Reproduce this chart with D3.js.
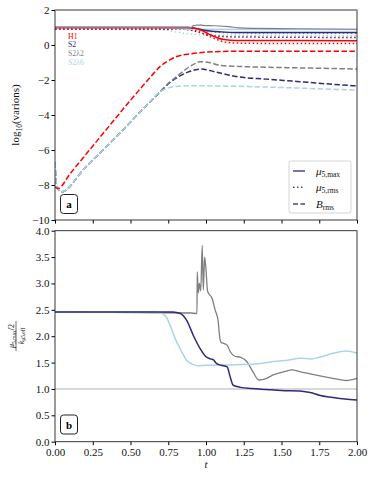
<!DOCTYPE html>
<html><head><meta charset="utf-8">
<script src="https://cdn.jsdelivr.net/npm/d3@7"></script>
<style>body{margin:0;background:#fff}svg{display:block}</style>
</head><body><div id="c"></div>
<script>
// ---- data ----
const xTicks = [0, 0.25, 0.5, 0.75, 1.0, 1.25, 1.5, 1.75, 2.0];
const yTicksTop = [-10, -8, -6, -4, -2, 0, 2];
const yTicksBot = [0, 0.5, 1, 1.5, 2, 2.5, 3, 3.5, 4];
const runNames = ["H1", "S2", "S2λ2", "S2λ6"];
const runColors = ["#ff0000", "#2e2a7c", "#7f7f7f", "#a9d6e5"];

// top panel: [t, log10 value]
const h1Max = [[0,1.0],[0.88,1.0],[0.93,0.95],[0.97,0.84],[1.02,0.62],[1.07,0.43],[1.12,0.31],[1.2,0.26],[2.0,0.25]];
const h1Rms = [[0,0.9],[0.85,0.9],[0.92,0.84],[0.97,0.7],[1.02,0.5],[1.07,0.32],[1.12,0.18],[1.2,0.11],[1.4,0.09],[2.0,0.08]];
const h1B = [[0,-8.1],[0.02,-8.2],[0.1,-7.35],[0.2,-6.3],[0.3,-5.25],[0.4,-4.2],[0.5,-3.15],[0.55,-2.65],[0.6,-2.15],[0.65,-1.65],[0.7,-1.2],[0.75,-0.9],[0.8,-0.68],[0.9,-0.5],[1.0,-0.41],[1.2,-0.36],[2.0,-0.35]];
const s2Max = [[0,1.0],[0.88,1.0],[0.95,0.92],[1.0,0.83],[1.1,0.75],[1.2,0.72],[2.0,0.72]];
const s2Rms = [[0,0.9],[0.85,0.9],[0.95,0.74],[1.0,0.6],[1.1,0.49],[1.2,0.46],[2.0,0.43]];
const s2B = [[0,-6.7],[0.01,-8.0],[0.04,-8.4],[0.2,-7.0],[0.4,-5.3],[0.6,-3.5],[0.7,-2.65],[0.76,-2.15],[0.82,-1.8],[0.88,-1.55],[0.93,-1.42],[0.97,-1.37],[1.02,-1.45],[1.1,-1.62],[1.2,-1.8],[1.4,-1.95],[1.6,-2.08],[1.8,-2.22],[2.0,-2.34]];
const s2l2Max = [[0,1.0],[0.9,1.0],[0.92,1.12],[0.93,1.1],[0.94,1.16],[0.95,1.12],[0.96,1.15],[0.98,1.12],[1.05,1.1],[1.15,1.05],[1.22,0.98],[1.3,0.95],[1.6,0.93],[2.0,0.9]];
const s2l2Rms = [[0,0.9],[0.9,0.9],[1.0,0.8],[1.1,0.72],[1.3,0.69],[2.0,0.67]];
const s2l2B = [[0,-6.7],[0.01,-8.0],[0.04,-8.4],[0.2,-7.0],[0.4,-5.3],[0.6,-3.5],[0.68,-2.8],[0.75,-2.2],[0.82,-1.7],[0.88,-1.3],[0.93,-1.05],[0.96,-0.95],[1.02,-1.0],[1.1,-1.17],[1.2,-1.22],[1.4,-1.27],[1.7,-1.32],[2.0,-1.37]];
const s2l6Max = [[0,1.0],[0.7,0.98],[0.8,0.93],[0.9,0.9],[2.0,0.88]];
const s2l6Rms = [[0,0.9],[0.7,0.88],[0.8,0.75],[0.9,0.62],[1.0,0.57],[1.5,0.55],[2.0,0.53]];
const s2l6B = [[0,-6.7],[0.01,-8.0],[0.04,-8.4],[0.2,-7.0],[0.4,-5.3],[0.6,-3.5],[0.7,-2.65],[0.75,-2.45],[0.8,-2.37],[0.9,-2.33],[1.2,-2.36],[1.5,-2.43],[2.0,-2.58]];

// bottom panel: [t, ratio]
const s2Ratio = [[0,2.46],[0.78,2.46],[0.83,2.43],[0.87,2.31],[0.92,1.99],[0.96,1.77],[1.0,1.61],[1.03,1.57],[1.05,1.55],[1.07,1.48],[1.1,1.45],[1.14,1.42],[1.16,1.23],[1.18,1.07],[1.23,1.03],[1.3,1.01],[1.4,0.99],[1.5,0.97],[1.62,0.96],[1.67,0.94],[1.71,0.92],[1.75,0.88],[1.84,0.84],[1.92,0.81],[2.0,0.79]];
const s2l2Ratio = [[0,2.46],[0.9,2.44],[0.94,2.43],[0.942,3.22],[0.949,2.82],[0.956,3.0],[0.965,2.86],[0.975,3.72],[0.982,2.88],[0.991,3.5],[1.0,3.26],[1.01,2.86],[1.02,2.8],[1.04,2.72],[1.06,2.5],[1.08,2.3],[1.09,2.0],[1.1,1.88],[1.12,1.86],[1.14,1.83],[1.16,1.71],[1.19,1.62],[1.23,1.6],[1.27,1.52],[1.31,1.33],[1.35,1.17],[1.38,1.18],[1.45,1.27],[1.52,1.33],[1.57,1.36],[1.62,1.33],[1.73,1.26],[1.84,1.2],[1.93,1.16],[2.0,1.2]];
const s2l6Ratio = [[0,2.46],[0.65,2.46],[0.7,2.44],[0.74,2.35],[0.77,2.15],[0.8,1.93],[0.84,1.7],[0.87,1.55],[0.91,1.47],[0.95,1.44],[1.0,1.45],[1.2,1.46],[1.35,1.48],[1.45,1.52],[1.55,1.55],[1.62,1.58],[1.7,1.57],[1.75,1.6],[1.85,1.68],[1.93,1.72],[2.0,1.68]];
const refLine = [[0,1],[2,1]];

const legendLabels = ["max", "rms", "rms"];

// ---- drawing ----
const FONT = "'Liberation Serif','DejaVu Serif',serif";
const W = 374, H = 477;
const svg = d3.select("#c").append("svg").attr("width", W).attr("height", H)
  .attr("font-family", FONT);
const L = 55, R = 357;
const x = d3.scaleLinear().domain([0, 2]).range([L, R]);
const yT = d3.scaleLinear().domain([-10, 2]).range([220, 10]);
const yB = d3.scaleLinear().domain([0, 4]).range([441.7, 230.7]);

function axes(y, ticks, fmt, showX) {
  const ga = svg.append("g").attr("transform", `translate(${L},0)`)
    .call(d3.axisLeft(y).tickValues(ticks).tickSize(3.5).tickPadding(2).tickFormat(fmt));
  ga.attr("font-family", FONT).attr("font-size", 11);
  ga.select(".domain").remove();
  ga.selectAll("text").attr("fill", "#111");
  const gx = svg.append("g").attr("transform", `translate(0,${y.range()[0]})`)
    .call(d3.axisBottom(x).tickValues(xTicks).tickSize(3.5).tickPadding(3).tickFormat(showX ? d3.format(".2f") : () => ""));
  gx.attr("font-family", FONT).attr("font-size", 11);
  gx.select(".domain").remove();
  gx.selectAll("text").attr("fill", "#111");
}
const fmtTop = d => (d < 0 ? "\u2212" + (-d) : "" + d);
axes(yT, yTicksTop, fmtTop, false);
axes(yB, yTicksBot, d3.format(".1f"), true);

function clipFor(id, y) {
  svg.append("clipPath").attr("id", id).append("rect")
    .attr("x", L).attr("y", y.range()[1]).attr("width", R - L).attr("height", y.range()[0] - y.range()[1]);
}
clipFor("cT", yT); clipFor("cB", yB);
const gT = svg.append("g").attr("clip-path", "url(#cT)");
const gB = svg.append("g").attr("clip-path", "url(#cB)");

function draw(g, y, data, color, style, width) {
  const line = d3.line().x(d => x(d[0])).y(d => y(d[1])).curve(d3.curveMonotoneX);
  const p = g.append("path").datum(data).attr("d", line).attr("fill", "none")
    .attr("stroke", color).attr("stroke-width", width || 1.5);
  if (style === "dot") p.attr("stroke-dasharray", "1.5,2.5");
  if (style === "dash") p.attr("stroke-dasharray", "5.5,2.4");
}
// top panel lines
draw(gT, yT, s2l6Rms, runColors[3], "dot");
draw(gT, yT, s2l2Rms, runColors[2], "dot");
draw(gT, yT, s2Rms, runColors[1], "dot");
draw(gT, yT, h1Rms, runColors[0], "dot");
draw(gT, yT, s2B, runColors[1], "dash");
draw(gT, yT, s2l2B, runColors[2], "dash");
draw(gT, yT, s2l6B, runColors[3], "dash");
draw(gT, yT, h1B, runColors[0], "dash");
draw(gT, yT, s2l6Max, runColors[3], "solid");
draw(gT, yT, s2Max, runColors[1], "solid");
draw(gT, yT, h1Max, runColors[0], "solid");
draw(gT, yT, s2l2Max, runColors[2], "solid", 1.1);

// bottom panel lines
draw(gB, yB, refLine, "#b0b0b0", "solid", 1.1);
draw(gB, yB, s2l2Ratio, runColors[2], "solid", 1.3);
draw(gB, yB, s2l6Ratio, runColors[3], "solid", 1.5);
draw(gB, yB, s2Ratio, runColors[1], "solid", 1.5);

// frames
svg.append("rect").attr("x", L).attr("y", 10).attr("width", R - L).attr("height", 210)
  .attr("fill", "none").attr("stroke", "#222").attr("stroke-width", 0.9);
svg.append("line").attr("x1", L).attr("x2", R).attr("y1", 10).attr("y2", 10).attr("stroke", "#9a9a9a").attr("stroke-width", 1.5);
svg.append("rect").attr("x", L).attr("y", 230.7).attr("width", R - L).attr("height", 211)
  .attr("fill", "none").attr("stroke", "#222").attr("stroke-width", 0.9);

// run labels
runNames.forEach((n, i) => {
  svg.append("text").attr("x", 68).attr("y", 38.8 + i * 8.6).attr("font-size", 7.8)
    .attr("fill", runColors[i]).text(n);
});

// legend
const lg = svg.append("g");
lg.append("rect").attr("x", 289).attr("y", 161).attr("width", 62).attr("height", 52).attr("rx", 2.5)
  .attr("fill", "#fff").attr("stroke", "#d0d0d0").attr("stroke-width", 0.9);
const legStyles = ["solid", "dot", "dash"];
const legY = [171, 187.3, 204];
const legColor = "#4a4590";
legStyles.forEach((s, i) => {
  const l = lg.append("line").attr("x1", 293).attr("x2", 305).attr("y1", legY[i]).attr("y2", legY[i])
    .attr("stroke", legColor).attr("stroke-width", 1.5);
  if (s === "dot") l.attr("stroke-dasharray", "1.5,2.5");
  if (s === "dash") l.attr("stroke-dasharray", "5,2.4");
  const t = lg.append("text").attr("x", 316).attr("y", legY[i] + 3.5).attr("font-size", 11).attr("fill", "#111");
  if (i < 2) {
    t.append("tspan").attr("font-style", "italic").text("μ");
    t.append("tspan").attr("font-size", 7.5).attr("dy", 2).text("5," + legendLabels[i]);
  } else {
    t.append("tspan").attr("font-style", "italic").text("B");
    t.append("tspan").attr("font-size", 7.5).attr("dy", 2).text(legendLabels[i]);
  }
});

// panel tags
function tag(xp, yp, s) {
  svg.append("rect").attr("x", xp).attr("y", yp).attr("width", 17).attr("height", 19).attr("rx", 3)
    .attr("fill", "#fff").attr("stroke", "#222").attr("stroke-width", 1);
  svg.append("text").attr("x", xp + 8.5).attr("y", yp + 13.5).attr("text-anchor", "middle")
    .attr("font-size", 11).attr("font-weight", "bold").text(s);
}
tag(60.5, 194.5, "a");
tag(60.5, 415, "b");

// axis labels
const yl = svg.append("text").attr("transform", "translate(19,115) rotate(-90)")
  .attr("text-anchor", "middle").attr("font-size", 11).attr("fill", "#111");
yl.append("tspan").text("log");
yl.append("tspan").attr("font-size", 7.5).attr("dy", 2.5).text("10");
yl.append("tspan").attr("dy", -2.5).text("(varions)");

const fl = svg.append("g").attr("transform", "translate(16,336) rotate(-90)");
const num = fl.append("text").attr("text-anchor", "middle").attr("y", -2).attr("font-size", 8).attr("fill", "#111");
num.append("tspan").attr("font-style", "italic").text("μ");
num.append("tspan").attr("font-size", 5.5).attr("dy", 1.5).text("5,max");
num.append("tspan").attr("dy", -1.5).text("/2");
fl.append("line").attr("x1", -15).attr("x2", 15).attr("y1", 0).attr("y2", 0).attr("stroke", "#111").attr("stroke-width", 0.6);
const den = fl.append("text").attr("text-anchor", "middle").attr("y", 7.5).attr("font-size", 8).attr("fill", "#111");
den.append("tspan").attr("font-style", "italic").text("k");
den.append("tspan").attr("font-size", 5.5).attr("dy", 1.5).text("μ5,eff");

svg.append("text").attr("x", 206).attr("y", 468).attr("text-anchor", "middle").attr("font-size", 11)
  .attr("font-style", "italic").attr("fill", "#111").text("t");
</script></body></html>
